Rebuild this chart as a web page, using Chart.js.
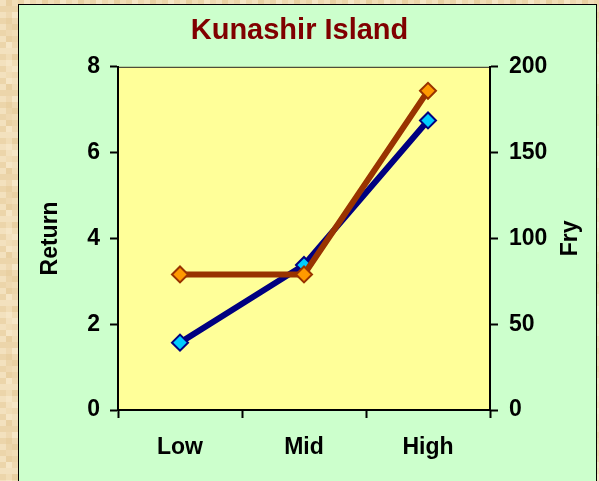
<!DOCTYPE html>
<html>
<head>
<meta charset="utf-8">
<script src="https://cdn.jsdelivr.net/npm/chart.js@4.4.1/dist/chart.umd.min.js"></script>
<style>
  html, body { margin: 0; padding: 0; background: #f1ddb5; }
  #wrap { width: 599px; height: 481px; }
</style>
</head>
<body>
<div id="wrap"><canvas id="chart" width="599" height="481"></canvas></div>
<script>
// stocking level categories and the two series
const levels = ['Low', 'Mid', 'High'];
const returnValues = [1.57, 3.38, 6.75];
const fryValues = [79, 79, 186];
const returnTicks = [0, 2, 4, 6, 8];
const fryTicks = [0, 50, 100, 150, 200];

const FONT = "'Liberation Sans', Arial, sans-serif";

// parchment border, green panel and yellow plot area
const panelPlugin = {
  id: 'panel',
  beforeDraw(chart) {
    const ctx = chart.ctx;
    const {left, top, right, bottom} = chart.chartArea;
    ctx.save();
    const shades = ['#f3e1be', '#efd9b1', '#f6e6c6', '#ecd5aa', '#f1ddb6', '#e9d0a2'];
    for (let y = 0; y < chart.height; y += 6) {
      for (let x = 0; x < chart.width; x += 6) {
        ctx.fillStyle = shades[((x / 6) * 5 + (y / 6) * 3 + ((x / 6) * (y / 6)) % 7) % shades.length];
        ctx.fillRect(x, y, 6, 6);
      }
    }
    ctx.fillStyle = '#ccffcc';
    ctx.fillRect(18.5, 4.5, 578, 500);
    ctx.strokeStyle = '#000';
    ctx.lineWidth = 1;
    ctx.strokeRect(18.5, 4.5, 578, 500);
    ctx.fillStyle = '#ffff99';
    ctx.fillRect(left, top, right - left, bottom - top);
    ctx.strokeStyle = '#222';
    ctx.strokeRect(left + 0.5, top + 0.5, right - left - 1, bottom - top);
    ctx.restore();
  },
  afterDraw(chart) {
    // secondary axis title reads bottom to top, like the left one
    const s = chart.scales.fry;
    const ctx = chart.ctx;
    ctx.save();
    ctx.translate(s.right - 28, (chart.chartArea.top + chart.chartArea.bottom) / 2);
    ctx.rotate(-Math.PI / 2);
    ctx.font = 'bold 23px ' + FONT;
    ctx.fillStyle = '#000';
    ctx.textAlign = 'center';
    ctx.textBaseline = 'middle';
    ctx.fillText('Fry', 0, 0);
    ctx.restore();
  }
};

const tickFont = {family: FONT, size: 23, weight: 'bold'};

new Chart(document.getElementById('chart'), {
  type: 'line',
  data: {
    labels: levels,
    datasets: [
      {
        label: 'Fry',
        data: fryValues,
        yAxisID: 'fry',
        borderColor: '#993300',
        borderWidth: 6,
        pointStyle: 'rectRot',
        pointRadius: 8,
        pointBorderWidth: 2,
        pointBackgroundColor: '#ff9900',
        pointBorderColor: '#993300',
        tension: 0,
        order: 0
      },
      {
        label: 'Return',
        data: returnValues,
        yAxisID: 'ret',
        borderColor: '#000080',
        borderWidth: 6,
        pointStyle: 'rectRot',
        pointRadius: 8,
        pointBorderWidth: 2,
        pointBackgroundColor: '#00ccff',
        pointBorderColor: '#000080',
        tension: 0,
        order: 1
      }
    ]
  },
  options: {
    responsive: false,
    devicePixelRatio: 1,
    animation: false,
    layout: {padding: 0},
    plugins: {
      legend: {display: false},
      tooltip: {enabled: false},
      title: {
        display: true,
        text: 'Kunashir Island',
        color: '#800000',
        font: {family: FONT, size: 29, weight: 'bold'},
        padding: {top: 14, bottom: 18}
      }
    },
    scales: {
      x: {
        type: 'category',
        offset: true,
        grid: {offset: true, drawOnChartArea: false, tickLength: 8, tickWidth: 2, tickColor: '#000'},
        border: {color: '#000', width: 2},
        ticks: {color: '#000', font: tickFont, padding: 16},
        afterFit(scale) { scale.height = 71; }
      },
      ret: {
        type: 'linear',
        position: 'left',
        min: 0,
        max: 8,
        afterBuildTicks(scale) { scale.ticks = returnTicks.map(v => ({value: v})); },
        grid: {drawOnChartArea: false, tickLength: 8, tickWidth: 2, tickColor: '#000'},
        border: {color: '#000', width: 2},
        ticks: {color: '#000', font: tickFont, padding: 10},
        title: {
          display: true,
          text: 'Return',
          color: '#000',
          font: tickFont,
          padding: {top: 37, bottom: 0}
        },
        afterFit(scale) { scale.width = 118; }
      },
      fry: {
        type: 'linear',
        position: 'right',
        min: 0,
        max: 200,
        afterBuildTicks(scale) { scale.ticks = fryTicks.map(v => ({value: v})); },
        grid: {drawOnChartArea: false, tickLength: 8, tickWidth: 2, tickColor: '#000'},
        border: {color: '#000', width: 2},
        ticks: {color: '#000', font: tickFont, padding: 11},
        afterFit(scale) { scale.width = 109; }
      }
    }
  },
  plugins: [panelPlugin]
});
</script>
</body>
</html>
